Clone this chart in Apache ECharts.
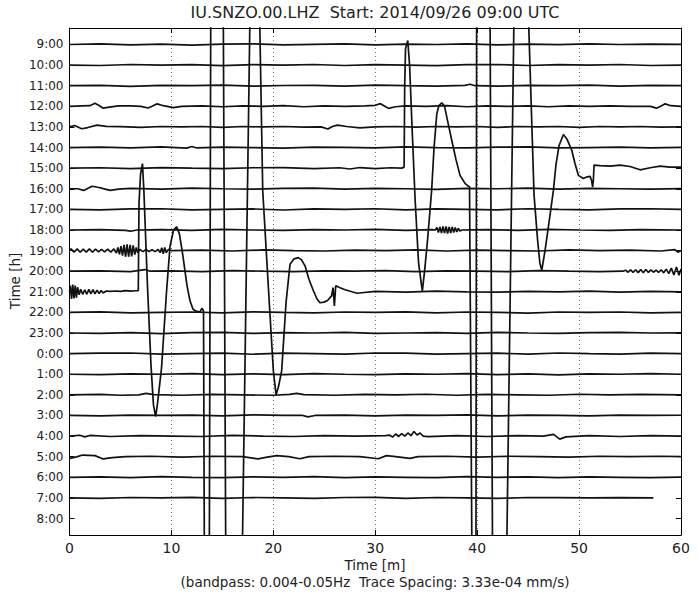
<!DOCTYPE html>
<html>
<head>
<meta charset="utf-8">
<script src="https://cdn.jsdelivr.net/npm/echarts@6/dist/echarts.min.js"></script>
<style>
html,body{margin:0;padding:0;background:#fff;}
#main{width:698px;height:595px;}
</style>
</head>
<body>
<div id="main"></div>
<script>
// row labels, top to bottom
var hourLabels = ["9:00","10:00","11:00","12:00","13:00","14:00","15:00","16:00","17:00","18:00","19:00","20:00",
	"21:00","22:00","23:00","0:00","1:00","2:00","3:00","4:00","5:00","6:00","7:00","8:00"];
var rowIdx = [0,1,2,3,4,5,6,7,8,9,10,11,12,13,14,15,16,17,18,19,20,21,22,23];

// traces: [minute, offset in trace spacings] (+ = up)
var tr0900 = [[0,0],[3,0.03],[6,-0.02],[9,0.02],[12,-0.03],[15,0.02],[18,0.03],[21,-0.02],[24,0.01],[27,0.03],[30,-0.02],[33,0.02],[36,0],[39,0.03],[42,-0.02],[45,0.02],[48,-0.01],[51,0.03],[54,0],[57,0.02],[60,0.01]];
var tr1000 = [[0,0],[3,-0.02],[6,0.03],[9,0],[12,0.02],[15,-0.03],[18,0.02],[21,0],[24,0.03],[27,-0.02],[30,0.02],[33,0],[36,-0.03],[39,0.02],[42,0.03],[45,-0.02],[48,0.02],[51,0],[54,0.03],[57,-0.02],[60,0]];
var tr1100 = [[0,0],[3,0.02],[6,-0.03],[9,0.02],[12,0],[15,0.03],[18,-0.02],[21,0.01],[24,0.02],[27,-0.02],[30,0.03],[33,0],[36,-0.02],[38.8,0.02],[39.3,0.07],[39.8,0],[42,-0.02],[45,0.02],[48,0],[51,0.03],[54,-0.02],[57,0.02],[60,0]];
var tr1200 = [[0,0],[1.2,0.02],[2.0,0.03],[2.5,0.15],[2.9,0.04],[3.3,-0.09],[3.9,-0.04],[4.8,0.02],[6,0.02],[7.0,0],[7.7,-0.08],[8.1,0],[8.6,0.12],[9.2,0.03],[10.2,-0.06],[11,0],[13,0.02],[15,-0.02],[17,0.02],[19,0],[21,0.03],[23,-0.02],[25,0.02],[27,0],[29,0.02],[30.0,0.05],[30.5,0.13],[30.9,0.02],[31.3,-0.1],[32,-0.02],[33,0.02],[35,0],[37,0.03],[39,-0.02],[41,0.02],[43,0],[45,0.02],[47,-0.02],[49,0.02],[51,0],[53,0.02],[55,0],[57,0],[57.6,-0.09],[58,0],[58.45,0.12],[59,0.03],[60,0]];
var tr1300 = [[0,0],[0.5,0.07],[1.2,-0.09],[1.8,-0.03],[2.7,0.09],[3.6,0.03],[5,0.01],[7,-0.02],[9,0.02],[11,0],[13,0.02],[15,-0.02],[17,0.02],[19,0],[21,0.02],[23,-0.01],[24.7,0],[25.35,-0.1],[25.8,0.02],[26.3,0.09],[27.2,0.02],[28.5,-0.05],[30,0],[32,0.02],[34,-0.01],[36,0.02],[38,0],[40,0.02],[42,-0.02],[44,0.02],[46,0],[48,0.02],[50,-0.02],[52,0.02],[54,0],[56,0.02],[58,-0.01],[60,0]];
var tr1400 = [[0,0],[3,0.02],[6,-0.02],[9,0.03],[11.5,-0.03],[12,0.05],[12.5,-0.02],[15,0.02],[18,0],[21,-0.03],[24,0.02],[27,0.01],[30,-0.02],[33,0.03],[36,0],[39,-0.02],[42,0.02],[45,0.03],[48,-0.02],[51,0],[54,0.02],[57,-0.02],[60,0.01]];
var tr1500 = [[0,0],[3,0.02],[6,-0.02],[9,0.03],[12,0],[15,-0.02],[18,0.02],[21,0.03],[24,-0.02],[26.5,0.02],[27.5,-0.04],[28.5,0.03],[30,-0.02],[31.5,0.02],[32.6,0],
	[32.83,0.05],[32.89,4.0],[32.97,5.8],[33.19,6.19],[33.37,5.0],[33.61,2.0],[33.91,-1.5],[34.25,-4.6],[34.62,-5.97],[34.84,-5.0],
	[35.13,-3.5],[35.53,-1.1],[35.77,1.0],[36.04,2.64],[36.26,3.05],[36.53,3.17],[36.8,3.0],[37.14,2.2],[37.51,1.34],[37.93,0.4],
	[38.32,-0.35],[38.81,-0.74],[39.14,-0.88],[39.25,-0.9],[39.49,-19],[39.7,-30],[39.88,-19],[39.95,8],[40.58,30],[41.26,8],
	[41.51,-19],[42.2,-40],[42.89,-19],[43.63,8],[44.31,20],[44.99,8],[45.58,-1.3],[45.93,-3.5],[46.15,-4.6],[46.34,-4.95],
	[46.66,-4.0],[47.06,-2.6],[47.48,-1.08],[47.74,0.2],[48.04,1.1],[48.46,1.63],[48.82,1.4],[49.28,0.87],[49.61,0.2],[49.93,-0.35],
	[50.42,-0.5],[50.79,-0.42],[51.08,-0.4],[51.23,-0.6],[51.33,-0.92],[51.4,-0.6],[51.47,0.15],[52.06,0.12],[53.04,0.1],[54.02,0.15],
	[55.0,0.08],[55.99,-0.08],[56.97,0.02],[57.95,0.1],[58.93,0.05],[60,0.05]];
var tr1600 = [[0,0],[0.8,0],[1.4,-0.08],[2.2,0.12],[2.9,0.06],[3.5,-0.02],[4.0,-0.08],[4.8,-0.02],[6,0.02],[9,-0.02],[12,0.03],[15,0],[18,-0.02],[21,0.02],[24,0.03],[27,-0.02],[30,0.02],[33,0],[36,-0.03],[39,0.02],[42,0],[45,0.03],[48,-0.02],[51,0.02],[54,0],[57,-0.02],[60,0.01]];
var tr1700 = [[0,0],[3,-0.02],[6,0.02],[9,0.03],[12,-0.02],[15,0],[18,0.02],[21,-0.03],[24,0.02],[27,0],[30,0.03],[33,-0.02],[36,0.02],[39,0],[42,-0.02],[45,0.03],[48,0],[51,-0.02],[54,0.02],[57,0.03],[60,0]];
var tr1800 = [[0,0],[3,0.02],[5.5,-0.02],[6,-0.06],[6.6,0],[9,0.02],[12,-0.02],[15,0.03],[18,0],[21,-0.02],[24,0.02],[27,0],[30,0.03],[33,-0.02],[35.6,0.02],[35.9,0],
	[36.05,0.12],[36.2,-0.12],[36.35,0.15],[36.5,-0.15],[36.65,0.17],[36.8,-0.15],[36.95,0.17],[37.1,-0.17],[37.25,0.15],[37.4,-0.15],
	[37.55,0.15],[37.7,-0.12],[37.85,0.12],[38.0,-0.1],[38.15,0.08],[38.3,-0.05],[38.5,0],[41,0.02],[44,-0.02],[47,0.03],[50,0],[53,-0.02],[56,0.02],[60,0]];
var tr1900 = [[0,0],[0.15,0.08],[0.45,-0.08],[0.75,0.08],[1.05,-0.08],[1.35,0.07],[1.65,-0.07],[1.95,0.08],[2.25,-0.08],[2.55,0.07],[2.85,-0.06],
	[3.15,0.06],[3.45,-0.06],[3.75,0.07],[4.05,-0.07],[4.35,0.08],[4.6,-0.12],[4.75,0.15],[4.9,-0.18],[5.05,0.22],[5.2,-0.25],[5.35,0.28],
	[5.5,-0.3],[5.65,0.3],[5.8,-0.3],[5.95,0.28],[6.1,-0.28],[6.25,0.25],[6.4,-0.2],[6.55,0.15],[6.7,-0.1],[6.9,0.06],[7.2,-0.05],[7.5,0.05],
	[7.8,-0.04],[8.1,0.04],[8.4,-0.05],[8.7,0.05],[8.9,-0.1],[9.05,0.14],[9.2,-0.15],[9.35,0.15],[9.5,-0.1],[9.7,0.06],[10,0],
	[13,0.02],[16,-0.02],[19,0.03],[22,0],[25,-0.02],[28,0.02],[31,0],[34,0.03],[37,-0.02],[40,0.02],[43,0],[46,-0.02],[49,0.03],[52,0],[55,0.02],[58,-0.02],[59.4,0.05],[59.7,-0.08],[60,0]];
var tr2000 = [[0,0],[3,0.02],[6,-0.02],[7.4,0.08],[7.9,0],[10,0.02],[13,-0.02],[16,0.03],[19,0],[22,-0.02],[25,0.02],[28,0],[31,0.03],[34,-0.02],[37,0.02],[40,0],[43,-0.02],[46,0.03],[49,0],[52,-0.02],[54.3,0],
	[54.55,0.05],[54.8,-0.05],[55.05,0.06],[55.3,-0.06],[55.55,0.07],[55.8,-0.07],[56.05,0.08],[56.3,-0.08],[56.55,0.08],[56.8,-0.06],
	[57.05,0.06],[57.3,-0.05],[57.55,0.05],[57.8,-0.06],[58.05,0.07],[58.3,-0.08],[58.55,0.1],[58.8,-0.12],[59.05,0.15],[59.3,-0.18],
	[59.55,0.2],[59.8,-0.2],[60,0.1]];
var tr2100 = [[0,0],[0.08,0.3],[0.2,-0.35],[0.32,0.35],[0.44,-0.32],[0.56,0.3],[0.68,-0.28],[0.8,0.22],[0.95,-0.15],[1.1,0.12],[1.3,-0.12],
	[1.5,0.1],[1.7,-0.12],[1.9,0.12],[2.1,-0.1],[2.3,0.1],[2.5,-0.1],[2.7,0.08],[2.9,-0.08],[3.1,0.06],[3.3,-0.06],[3.6,0.04],[4.0,0.02],
	[4.5,0.04],[5.0,0.02],[5.5,0.06],[6.0,0.03],[6.5,0.05],[6.75,0.05],
	[6.82,4.3],[6.97,5.7],[7.16,6.22],[7.29,5.0],[7.65,0.3],[8.0,-3.6],[8.24,-5.5],[8.46,-6.05],[8.64,-5.4],[9.03,-3.7],[9.52,0.0],
	[9.86,2.2],[10.21,3.0],[10.52,3.15],[10.79,2.8],[11.14,1.7],[11.53,0.3],[11.83,-0.45],[12.12,-0.85],[12.48,-0.95],[12.81,-0.97],
	[12.98,-0.8],[13.08,-0.85],[13.15,-0.95],[13.23,-12.5],[13.47,-30],[13.72,-12.5],[13.86,13.5],[14.48,40],[15.09,13.5],[15.33,-12.5],
	[16.14,-40],[16.96,-12.5],[17.71,13.5],[18.2,25],[18.65,13.5],[18.96,4.9],[19.48,0.5],[20.0,-3.83],[20.27,-5.0],[20.51,-4.6],
	[20.82,-3.83],[21.25,-0.5],[21.64,1.34],[22.03,1.6],[22.45,1.66],[22.77,1.55],[23.11,1.26],[23.5,0.6],[23.93,0.05],[24.29,-0.35],
	[24.58,-0.53],[24.98,-0.5],[25.32,-0.42],[25.71,-0.2],[25.86,0.2],[25.99,-0.68],[26.12,0.29],[26.55,0.2],[27.04,0.1],[27.72,0],
	[28.21,-0.07],[30,0.02],[33,-0.02],[36,0.03],[39,0],[42,-0.02],[45,0.02],[48,0],[51,0.03],[54,-0.02],[57,0.02],[60,0]];
var tr2200 = [[0,0],[3,0.03],[6,-0.02],[9,0],[12,0.02],[15,-0.02],[18,0.03],[21,0],[24,-0.02],[27,0.02],[30,0],[33,0.03],[36,-0.02],[39,0.02],[42,0],[45,-0.03],[48,0.02],[51,0],[54,0.02],[57,-0.02],[60,0]];
var tr2300 = [[0,0],[3,-0.02],[6,0.02],[9,-0.03],[12,0.02],[15,0.03],[18,-0.02],[21,0.02],[24,0],[27,0.03],[30,-0.02],[33,0],[36,0.02],[39,-0.02],[42,0.03],[45,0],[48,-0.02],[51,0.02],[54,0.03],[57,0],[60,0.01]];
var tr0000 = [[0,0],[3,0.02],[6,0.03],[9,-0.02],[12,0],[15,0.02],[18,-0.03],[21,0.02],[24,0],[27,-0.02],[30,0.03],[33,0.02],[36,-0.02],[39,0],[42,0.02],[45,-0.02],[48,0.03],[51,0],[54,-0.02],[57,0.02],[60,0]];
var tr0100 = [[0,0],[3,-0.02],[6,0.02],[9,0],[12,0.03],[15,-0.02],[18,0.02],[21,-0.02],[24,0.03],[27,0],[30,-0.02],[33,0.02],[36,0],[39,0.03],[42,-0.02],[45,0.02],[48,-0.03],[51,0.02],[54,0],[57,0.03],[60,0]];
var tr0200 = [[0,0],[3,0.02],[5,-0.02],[6.8,0],[7.5,0.07],[8.3,0.01],[11,-0.02],[14,0.02],[17,0],[20,-0.02],[21.6,0.02],[22.3,0.07],[23.0,0.01],[26,-0.02],[29,0.02],[32,0],[35,0.03],[38,-0.02],[41,0.02],[44,0],[47,-0.02],[50,0.03],[53,0],[56,0.02],[60,0]];
var tr0300 = [[0,0],[3,-0.02],[6,0.02],[9,0],[12,0.02],[15,-0.02],[18,0.03],[21,0],[22.8,0.01],[23.4,-0.07],[24.1,0],[27,0.02],[30,-0.02],[33,0.02],[36,0],[39,0.03],[42,-0.02],[45,0.02],[48,0],[51,-0.02],[54,0.02],[57,0],[60,0.01]];
var tr0400 = [[0,0],[1,0.04],[1.5,-0.04],[2,0.03],[4,-0.02],[7,0.02],[10,0],[13,-0.02],[16,0.03],[19,0],[22,-0.02],[25,0.02],[28,0],[31,0.02],
	[31.4,0.05],[31.7,-0.05],[32.0,0.1],[32.3,-0.02],[32.6,0.12],[32.9,0],[33.2,0.15],[33.5,0.02],[33.8,0.22],[34.1,0.05],[34.4,0.15],[34.7,0],
	[35.2,-0.03],[38,0.02],[41,-0.02],[44,0.02],[46.5,0],[47.5,0.08],[48.1,-0.15],[48.7,-0.04],[51,0.02],[54,-0.02],[57,0.02],[60,0]];
var tr0500 = [[0,-0.08],[0.6,-0.02],[1.3,0.08],[2.5,0.05],[3.3,-0.11],[4.2,-0.05],[5.5,0],[8,0.02],[11,-0.02],[14,0.02],[17,0],[18.5,-0.11],[19.4,-0.02],
	[20.35,0.05],[21.5,0],[22.6,-0.1],[23.5,0],[26,0.02],[28.5,0],[30.3,-0.1],[31.1,0.05],[32,0],[33.4,-0.08],[34.2,0],[37,0.02],[40,-0.02],[43,0.02],[46,0],[49,-0.02],[52,0.02],[55,0],[58,0.02],[60,0]];
var tr0600 = [[0,0],[3,0.02],[6,-0.02],[9,0.03],[12,0],[15,-0.02],[18,0.02],[21,0],[24,0.03],[27,-0.02],[30,0.02],[33,0],[36,-0.02],[39,0.03],[42,0],[45,0.02],[48,-0.02],[51,0.02],[54,0],[57,-0.02],[60,0.01]];
var tr0700 = [[0,0],[3,-0.02],[6,0.02],[9,0],[12,0.03],[15,-0.02],[18,0.02],[21,0],[24,-0.02],[27,0.02],[30,0.03],[33,-0.02],[36,0.02],[39,0],[42,-0.02],[45,0.02],[48,0.01],[51,0],[54,0.01],[57.29,0]];
var tr0800 = [];

var traces = [tr0900, tr1000, tr1100, tr1200, tr1300, tr1400, tr1500, tr1600, tr1700, tr1800, tr1900, tr2000,
	tr2100, tr2200, tr2300, tr0000, tr0100, tr0200, tr0300, tr0400, tr0500, tr0600, tr0700, tr0800];

var series = [];
for (var i = 0; i < traces.length; i++) {
	var pts = [];
	for (var j = 0; j < traces[i].length; j++) {
		pts.push([traces[i][j][0], i - traces[i][j][1]]);
	}
	series.push({
		type : 'line',
		data : pts,
		symbol : 'none',
		clip : true,
		silent : true,
		animation : false,
		lineStyle : { color : '#111', width : 1.7 }
	});
}

var txtColor = '#222';
var font = '"DejaVu Sans", sans-serif';

var mycharts = echarts.init(document.getElementById('main'), null, { renderer : 'svg' });
var option = {
	animation : false,
	grid : { left : 69.5, right : 17, top : 28, bottom : 60 },
	xAxis : [ {
		type : 'value', min : 0, max : 60, interval : 10, position : 'bottom',
		axisLine : { show : true, onZero : false, lineStyle : { color : '#000', width : 1 } },
		axisTick : { show : true, inside : true, length : 5, lineStyle : { color : '#000' } },
		axisLabel : { fontFamily : font, fontSize : 14, color : txtColor, margin : 6 },
		splitLine : { show : true, showMinLine : false, showMaxLine : false,
			lineStyle : { color : '#777', type : [ 1, 3 ], width : 1 } }
	}, {
		type : 'value', min : 0, max : 60, interval : 10, position : 'top',
		axisLine : { show : true, onZero : false, lineStyle : { color : '#000', width : 1 } },
		axisTick : { show : true, inside : true, length : 5, lineStyle : { color : '#000' } },
		axisLabel : { show : false },
		splitLine : { show : false }
	} ],
	yAxis : [ {
		type : 'value', min : -0.8, max : 23.8, inverse : true, position : 'left',
		axisLine : { show : true, onZero : false, lineStyle : { color : '#000', width : 1 } },
		axisTick : { show : true, inside : true, length : 5, customValues : rowIdx, lineStyle : { color : '#000' } },
		axisLabel : { customValues : rowIdx, fontFamily : font, fontSize : 12, color : txtColor, margin : 6,
			formatter : function(v) { return hourLabels[Math.round(v)]; } },
		splitLine : { show : false }
	}, {
		type : 'value', min : -0.8, max : 23.8, inverse : true, position : 'right',
		axisLine : { show : true, onZero : false, lineStyle : { color : '#000', width : 1 } },
		axisTick : { show : true, inside : true, length : 5, customValues : rowIdx, lineStyle : { color : '#000' } },
		axisLabel : { show : false },
		splitLine : { show : false }
	} ],
	graphic : [ {
		type : 'text', x : 375, y : 12,
		style : { text : 'IU.SNZO.00.LHZ  Start: 2014/09/26 09:00 UTC', font : '16px ' + font, fill : txtColor, align : 'center', verticalAlign : 'middle' }
	}, {
		type : 'text', x : 15, y : 281, rotation : Math.PI / 2,
		style : { text : 'Time [h]', font : '13.5px ' + font, fill : txtColor, align : 'center', verticalAlign : 'middle' }
	}, {
		type : 'text', x : 375, y : 565,
		style : { text : 'Time [m]', font : '13.5px ' + font, fill : txtColor, align : 'center', verticalAlign : 'middle' }
	}, {
		type : 'text', x : 375, y : 582,
		style : { text : '(bandpass: 0.004-0.05Hz  Trace Spacing: 3.33e-04 mm/s)', font : '13.5px ' + font, fill : txtColor, align : 'center', verticalAlign : 'middle' }
	} ],
	series : series
};
mycharts.setOption(option);
</script>
</body>
</html>
